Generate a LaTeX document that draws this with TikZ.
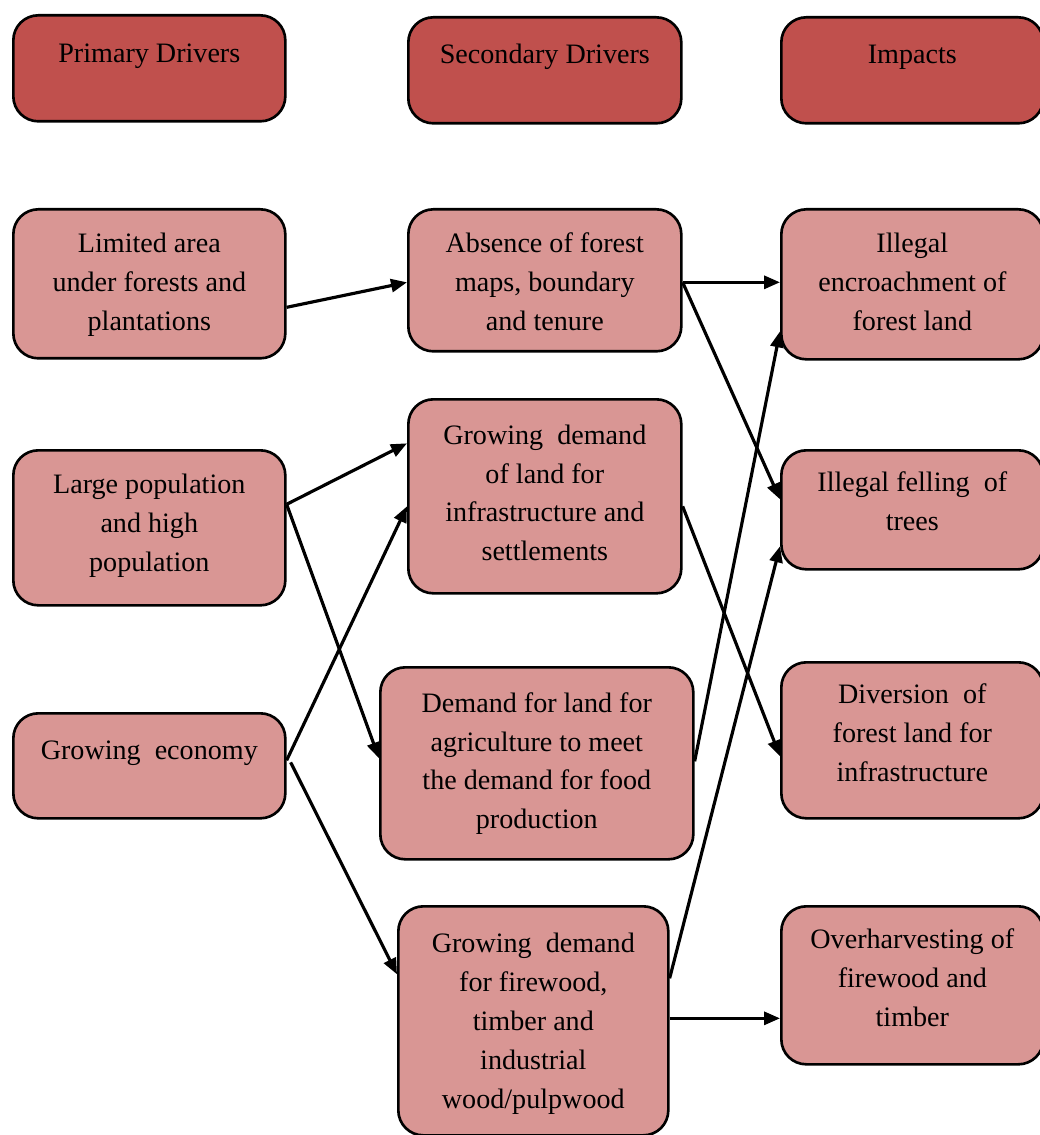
\documentclass[tikz,border=0pt]{standalone}
\usepackage{fontspec}
\setmainfont{Liberation Serif}
\usetikzlibrary{arrows.meta}
\definecolor{headred}{HTML}{C0504D}
\definecolor{cellpink}{HTML}{D99694}
\newcommand{\celltext}[4][0.87cm]{\parbox[t][#3][t]{#2}{\centering\fontsize{16}{22.1}\selectfont\rule{0pt}{#1}#4}}
\begin{document}
\begin{tikzpicture}[
	   cell/.style={draw,line width=1.5pt,rounded corners=0.5cm,fill=cellpink,inner sep=0pt,anchor=north west},
	   headcell/.style={cell,fill=headred},
	   link/.style={-{Triangle[length=0.32cm,width=0.26cm]},line width=1.8pt}]
	   \useasboundingbox (0,0) rectangle (20.78,-22.7);
	   % column heads
	   \node [headcell] (phead) at (0.24,-0.28) {\celltext[0.95cm]{5.44cm}{2.12cm}{Primary Drivers}};
	   \node [headcell] (shead) at (8.14,-0.32) {\celltext[0.93cm]{5.46cm}{2.12cm}{Secondary Drivers}};
	   \node [headcell] (ihead) at (15.6,-0.32) {\celltext[0.93cm]{5.24cm}{2.12cm}{Impacts}};
	   % primary drivers
	   \node [cell] (area) at (0.24,-4.16) {\celltext{5.44cm}{2.98cm}{Limited area\\under forests and\\plantations}};
	   \node [cell] (pop) at (0.24,-8.98) {\celltext{5.44cm}{3.1cm}{Large population\\and high\\population}};
	   \node [cell] (econ) at (0.24,-14.24) {\celltext[0.93cm]{5.44cm}{2.1cm}{Growing\ \ economy}};
	   % secondary drivers
	   \node [cell] (maps) at (8.14,-4.16) {\celltext{5.46cm}{2.84cm}{Absence of forest\\maps, boundary\\and tenure}};
	   \node [cell] (landdem) at (8.14,-7.96) {\celltext[0.9cm]{5.46cm}{3.88cm}{Growing\ \ demand\\of land for\\infrastructure and\\settlements}};
	   \node [cell] (agri) at (7.58,-13.32) {\celltext[0.9cm]{6.26cm}{3.84cm}{Demand for land for\\agriculture to meet\\the demand for food\\production}};
	   \node [cell] (fire) at (7.94,-18.1) {\celltext[0.93cm]{5.4cm}{4.58cm}{Growing\ \ demand\\for firewood,\\timber and\\industrial\\wood/pulpwood}};
	   % impacts
	   \node [cell] (encroach) at (15.6,-4.16) {\celltext{5.24cm}{3.0cm}{Illegal\\encroachment of\\forest land}};
	   \node [cell] (felling) at (15.6,-8.98) {\celltext[0.83cm]{5.24cm}{2.38cm}{Illegal felling\ \ of\\trees}};
	   \node [cell] (divert) at (15.6,-13.22) {\celltext[0.83cm]{5.24cm}{3.12cm}{Diversion\ \ of\\forest land for\\infrastructure}};
	   \node [cell] (over) at (15.6,-18.1) {\celltext[0.85cm]{5.24cm}{3.16cm}{Overharvesting of\\firewood and\\timber}};
	   % links
	   \draw [link] ([yshift=-0.47cm]area.east) -- ([yshift=-0.04cm]maps.west);
	   \draw [link] ([yshift=-0.04cm]maps.east) -- ([yshift=-0.04cm]maps.east -| encroach.west);
	   \draw [link] ([yshift=-0.04cm]maps.east) -- ([yshift=0.21cm]felling.west);
	   \draw [link] ([yshift=0.47cm]pop.east) -- ([yshift=1.06cm]landdem.west);
	   \draw [link] ([yshift=0.47cm]pop.east) -- ([yshift=0.1cm]agri.west);
	   \draw [link] ([yshift=0.11cm]econ.east) -- ([yshift=-0.2cm]landdem.west);
	   \draw [link] ([xshift=0.08cm,yshift=0.07cm]econ.east) -- ([yshift=0.93cm]fire.west);
	   \draw [link] ([yshift=-0.2cm]landdem.east) -- ([yshift=-0.32cm]divert.west);
	   \draw [link] ([yshift=0.04cm]agri.east) -- ([yshift=-0.94cm]encroach.west);
	   \draw [link] ([yshift=0.85cm]fire.east) -- ([yshift=-0.73cm]felling.west);
	   \draw [link] ([yshift=0.05cm]fire.east) -- ([yshift=0.05cm]fire.east -| over.west);
\end{tikzpicture}
\end{document}
